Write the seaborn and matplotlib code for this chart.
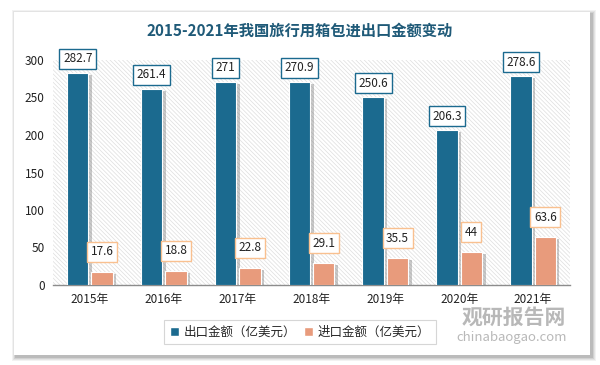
import numpy as np
import pandas as pd
import matplotlib
matplotlib.use("Agg")
import matplotlib.pyplot as plt
import matplotlib.patheffects as pe
from matplotlib.patches import Rectangle
import seaborn as sns

# 数据
years = ["2015年", "2016年", "2017年", "2018年", "2019年", "2020年", "2021年"]
export_vals = [282.7, 261.4, 271, 270.9, 250.6, 206.3, 278.6]
import_vals = [17.6, 18.8, 22.8, 29.1, 35.5, 44, 63.6]
series = ["出口金额（亿美元）", "进口金额（亿美元）"]
export_labels = ["282.7", "261.4", "271", "270.9", "250.6", "206.3", "278.6"]
import_labels = ["17.6", "18.8", "22.8", "29.1", "35.5", "44", "63.6"]

df = pd.DataFrame({
    "year": years * 2,
    "value": export_vals + import_vals,
    "series": [series[0]] * len(years) + [series[1]] * len(years),
})

sns.set_theme(style="white")
plt.rcParams["font.family"] = ["Noto Sans CJK SC", "DejaVu Sans"]
plt.rcParams["hatch.linewidth"] = 0.5
plt.rcParams["hatch.color"] = "#dedede"

blue = "#1b6a8f"
orange = "#e89b7c"

fig = plt.figure(figsize=(6, 3.65), dpi=100)
fig.patch.set_facecolor("white")

# 卡片阴影 + 白色卡片
W, H = 600, 365
for i, a in enumerate([0.05, 0.06, 0.08, 0.10]):
    d = 4 - i
    fig.patches.append(Rectangle(((14 - d + 2) / W, (10 - d - 2) / H),
                                 (576 + 2 * d) / W, (343 + 2 * d) / H,
                                 transform=fig.transFigure, facecolor="black",
                                 alpha=a, edgecolor="none", zorder=0))
fig.patches.append(Rectangle((14 / W, 10 / H), 576 / W, 343 / H,
                             transform=fig.transFigure, facecolor="white",
                             edgecolor="none", zorder=1))

ax = fig.add_axes([53 / W, 80 / H, 517 / W, 225 / H])
ax.set_facecolor("none")
ax.set_zorder(2)

# 斜线背景
ax.add_patch(Rectangle((0, 0), 1, 1, transform=ax.transAxes, facecolor="white",
                       hatch="\\" * 8, edgecolor="#dedede", linewidth=0, zorder=0))

sns.barplot(data=df, x="year", y="value", hue="series", palette=[blue, orange],
            saturation=1, width=0.66, gap=0.12, ax=ax, legend=True, zorder=3)

for bar in ax.patches:
    if isinstance(bar, Rectangle) and bar.get_height() > 0 and bar.get_zorder() == 3:
        bar.set_edgecolor("white")
        bar.set_linewidth(0.8)
        bar.set_path_effects([pe.SimplePatchShadow(offset=(2.5, -1.5), shadow_rgbFace="#666666", alpha=0.35),
                              pe.Normal()])

# 数据标签
cont_exp, cont_imp = ax.containers[0], ax.containers[1]
for bar, lab in zip(cont_exp, export_labels):
    ax.annotate(lab, (bar.get_x() + bar.get_width() / 2, bar.get_height()),
                xytext=(0, 14), textcoords="offset pixels", ha="center", va="center",
                fontsize=8.5, color="#222222", zorder=5,
                bbox=dict(boxstyle="square,pad=0.3", facecolor="white", edgecolor=blue, linewidth=1))
for bar, lab in zip(cont_imp, import_labels):
    ax.annotate(lab, (bar.get_x() + bar.get_width() / 2, bar.get_height()),
                xytext=(0, 20), textcoords="offset pixels", ha="center", va="center",
                fontsize=8.5, color="#222222", zorder=5,
                bbox=dict(boxstyle="square,pad=0.3", facecolor="white", edgecolor="#f9c08f", linewidth=1))

ax.set_ylim(0, 300)
ax.set_xlim(-0.5, len(years) - 0.5)
ax.set_yticks([0, 50, 100, 150, 200, 250, 300])
ax.set_xlabel("")
ax.set_ylabel("")
ax.tick_params(axis="both", length=0, labelsize=8.5, colors="#222222", pad=6)
for s in ["top", "right", "left"]:
    ax.spines[s].set_visible(False)
ax.spines["bottom"].set_color("#8c8c8c")
ax.spines["bottom"].set_linewidth(1)

handles, labels = ax.get_legend_handles_labels()
ax.legend_.remove()
leg = fig.legend(handles, labels, loc="center", bbox_to_anchor=(300 / W, 1 - 332 / H),
                 ncol=2, frameon=True, fancybox=False, fontsize=9, handlelength=0.7,
                 handleheight=0.7, handletextpad=0.4, columnspacing=0.6, borderpad=0.45)
leg.get_frame().set_edgecolor("#cccccc")
leg.get_frame().set_linewidth(0.8)
leg.set_zorder(4)

fig.text(0.5, 1 - 31 / H, "2015-2021年我国旅行用箱包进出口金额变动", ha="center", va="center",
         fontsize=11, fontweight="bold", color="#1f5a78", zorder=4)

# 水印
fig.text(514 / W, 1 - 317 / H, "观研报告网", ha="center", va="center", fontsize=15,
         fontweight="bold", color="#8a8a8a", alpha=0.6, zorder=4)
fig.text(512 / W, 1 - 337 / H, "chinabaogao.com", ha="center", va="center", fontsize=9.5,
         color="#8a8a8a", alpha=0.6, zorder=4)

fig.savefig("out.png", dpi=100)
